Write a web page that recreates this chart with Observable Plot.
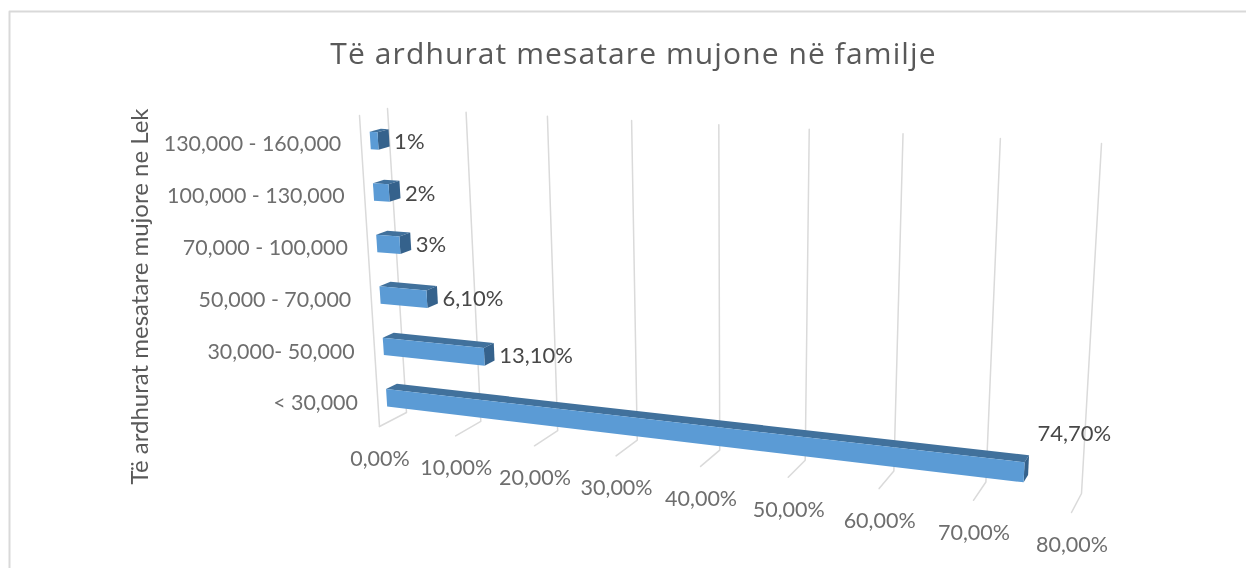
<!DOCTYPE html>
<html>
<head>
<meta charset="utf-8">
<style>
html,body{margin:0;padding:0;background:#fff;overflow:hidden}
svg{display:block;filter:blur(0.35px)}
</style>
<script src="https://cdn.jsdelivr.net/npm/d3@7"></script>
<script src="https://cdn.jsdelivr.net/npm/@observablehq/plot@0.6"></script>
</head>
<body>
<div id="chart"></div>
<script>
const chartTitle = "Të ardhurat mesatare mujone në familje";
const axisTitle = "Të ardhurat mesatare mujore ne Lek";
const categories = ["< 30,000", "30,000- 50,000", "50,000 - 70,000", "70,000 - 100,000", "100,000 - 130,000", "130,000 - 160,000"];
const values = [74.7, 13.1, 6.1, 3, 2, 1];
const valueLabels = ["74,70%", "13,10%", "6,10%", "3%", "2%", "1%"];
const ticks = [0, 10, 20, 30, 40, 50, 60, 70, 80];
const tickLabels = ["0,00%", "10,00%", "20,00%", "30,00%", "40,00%", "50,00%", "60,00%", "70,00%", "80,00%"];

// Perspective box of the 3-D chart: value (0..80), category level (0..6), depth (0 front, 1 back)
const corners = {
  f0: [379, 426], f1: [1071, 512], ft0: [359, 115], ft1: [1092, 152],
  b0: [406, 412], b1: [1081, 493], bt0: [387, 108], bt1: [1101, 143]
};
const mix = (p, q, t) => [p[0] + (q[0] - p[0]) * t, p[1] + (q[1] - p[1]) * t];
function project(v, h, d) {
  const t = v / 80, s = t / (t + 1.155 * (1 - t));
  const lev = h / 6;
  const front = mix(mix(corners.f0, corners.f1, s), mix(corners.ft0, corners.ft1, s), lev);
  const back = mix(mix(corners.b0, corners.b1, s), mix(corners.bt0, corners.bt1, s), lev);
  return mix(front, back, d);
}

const dFront = 0.32, dBack = 0.72, hLow = 0.30, hHigh = 0.64;
const pt = (a, series) => { const [x, y] = a; return {x, y, series}; };

const grid = [];
ticks.forEach(v => {
  [[v, 6, 1], [v, 0, 1], [v, 0, 0]].forEach(c => grid.push(pt(project(...c), "t" + v)));
});
[[0, 6, 0], [0, 0, 0]].forEach(c => grid.push(pt(project(...c), "side")));

const tops = [], ends = [], fronts = [];
categories.forEach((c, i) => {
  const v = values[i], lo = i + hLow, hi = i + hHigh;
  [[0, hi, dFront], [v, hi, dFront], [v, hi, dBack], [0, hi, dBack]].forEach(q => tops.push(pt(project(...q), i)));
  [[v, lo, dFront], [v, hi, dFront], [v, hi, dBack], [v, lo, dBack]].forEach(q => ends.push(pt(project(...q), i)));
  [[0, lo, dFront], [v, lo, dFront], [v, hi, dFront], [0, hi, dFront]].forEach(q => fronts.push(pt(project(...q), i)));
});

const catText = categories.map((c, i) => {
  const [x, y] = project(0, i + 0.47, 0);
  return {x: x - 20, y: y + 1.5, text: c};
});
const valText = categories.map((c, i) => {
  const [x, y] = project(values[i], i + 0.47, dBack);
  const lifted = values[i] > 50;
  return {x: x + (lifted ? 9 : 5), y: y + (lifted ? -31 : 4), text: valueLabels[i]};
});
const tickText = ticks.map((v, i) => {
  const [x, y] = project(v, 0, 0);
  return {x: x + 0.5, y: y + 32.5, text: tickLabels[i]};
});

const plot = Plot.plot({
  width: 1246, height: 568, margin: 0,
  style: {fontFamily: "Lato, 'Open Sans', sans-serif", background: "#fff"},
  x: {domain: [0, 1246], range: [0, 1246], axis: null},
  y: {domain: [0, 568], range: [0, 568], axis: null},
  marks: [
    Plot.line([{x: 9, y: 568}, {x: 9, y: 11}, {x: 1246, y: 11}], {x: "x", y: "y", stroke: "#d9d9d9", strokeWidth: 2}),
    Plot.line(grid, {x: "x", y: "y", z: "series", stroke: "#dadada", strokeWidth: 1.5, curve: "linear"}),
    Plot.line(tops, {x: "x", y: "y", z: "series", fill: "#41719c", stroke: "none"}),
    Plot.line(ends, {x: "x", y: "y", z: "series", fill: "#35628c", stroke: "none"}),
    Plot.line(fronts, {x: "x", y: "y", z: "series", fill: "#5b9bd5", stroke: "none"}),
    Plot.text(catText, {x: "x", y: "y", text: "text", textAnchor: "end", fontSize: 21.4, fill: "#6e6e6e"}),
    Plot.text(tickText, {x: "x", y: "y", text: "text", fontSize: 21.5, fill: "#6e6e6e"}),
    Plot.text(valText, {x: "x", y: "y", text: "text", textAnchor: "start", fontSize: 22, fill: "#484848"}),
    Plot.text([chartTitle], {x: () => 633, y: () => 54, text: d => d, fontSize: 30, fontFamily: "'Open Sans', sans-serif", fill: "#595959"}),
    Plot.text([axisTitle], {x: () => 140, y: () => 296, text: d => d, fontSize: 24, rotate: -90, fill: "#595959"})
  ]
});
plot.querySelectorAll("text").forEach(t => {
  if (t.textContent === chartTitle) t.style.letterSpacing = "1.1px";
});
document.getElementById("chart").appendChild(plot);
</script>
</body>
</html>
